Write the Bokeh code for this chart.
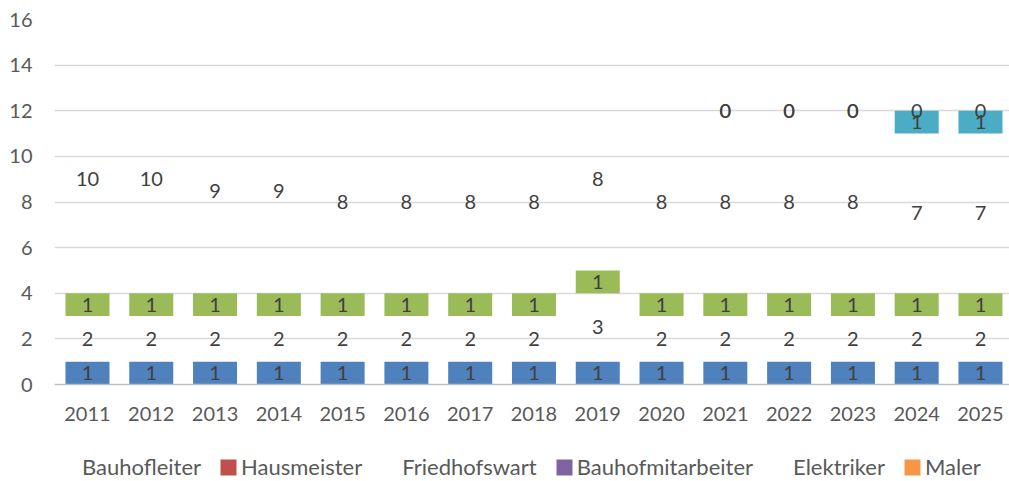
import numpy as np
from bokeh.plotting import figure
from bokeh.layouts import column
from bokeh.models import (Range1d, FixedTicker, Legend, LegendItem, ColumnDataSource)
from bokeh.core.properties import value
from bokeh.embed import file_html
from bokeh.resources import INLINE

years = [str(y) for y in range(2011, 2026)]
bauhofleiter = [1] * 15
hausmeister = [2, 2, 2, 2, 2, 2, 2, 2, 3, 2, 2, 2, 2, 2, 2]
friedhofswart = [1] * 15
bauhofmitarbeiter = [10, 10, 9, 9, 8, 8, 8, 8, 8, 8, 8, 8, 8, 7, 7]
elektriker = [None] * 10 + [0, 0, 0, 1, 1]
maler = [None] * 10 + [0, 0, 0, 0, 0]

series_names = ["Bauhofleiter", "Hausmeister", "Friedhofswart",
                "Bauhofmitarbeiter", "Elektriker", "Maler"]
series_vals = [bauhofleiter, hausmeister, friedhofswart,
               bauhofmitarbeiter, elektriker, maler]
colors = ["#4F81BD", "#C0504D", "#9BBB59", "#8064A2", "#4BACC6", "#F79646"]
bar_visible = [True, False, True, False, True, False]
legend_marker = [False, True, False, True, False, True]

FONT = "Lato"
TICK_COLOR = "#595959"
LABEL_COLOR = "#404040"

p = figure(width=1009, height=440, output_backend="svg", toolbar_location=None,
           x_range=Range1d(-0.517, 14.455), y_range=Range1d(0, 16),
           min_border_left=54, min_border_right=0, min_border_top=19,
           min_border_bottom=56)
p.outline_line_color = None
p.background_fill_color = "white"
p.border_fill_color = "white"

x = np.arange(len(years))
bottom = np.zeros(len(years))
for name, vals, col, vis in zip(series_names, series_vals, colors, bar_visible):
    arr = np.array([np.nan if v is None else v for v in vals], dtype=float)
    h = np.nan_to_num(arr)
    top = bottom + h
    if vis:
        p.vbar(x=x, bottom=bottom, top=top, width=0.69, fill_color=col,
               line_color=None)
    mask = ~np.isnan(arr)
    src = ColumnDataSource(dict(x=x[mask], y=((bottom + top) / 2)[mask],
                                t=[str(int(v)) for v in arr[mask]]))
    p.text(x="x", y="y", text="t", source=src, text_align="center",
           text_baseline="middle", text_font=value(FONT),
           text_font_size="20px", text_color=LABEL_COLOR)
    bottom = top

# axes
p.xaxis.ticker = FixedTicker(ticks=list(x))
p.xaxis.major_label_overrides = {int(i): y for i, y in zip(x, years)}
p.xaxis.axis_line_color = "#BFBFBF"
p.xaxis.axis_line_width = 1.5
p.xaxis.major_tick_line_color = None
p.xaxis.minor_tick_line_color = None
p.xaxis.major_label_standoff = 16
p.xaxis.major_label_text_font = FONT
p.xaxis.major_label_text_font_size = "20px"
p.xaxis.major_label_text_color = TICK_COLOR
p.xgrid.grid_line_color = None

p.yaxis.ticker = FixedTicker(ticks=list(range(0, 17, 2)))
p.yaxis.axis_line_color = None
p.yaxis.major_tick_line_color = None
p.yaxis.minor_tick_line_color = None
p.yaxis.major_label_standoff = 16
p.yaxis.major_label_text_font = FONT
p.yaxis.major_label_text_font_size = "20px"
p.yaxis.major_label_text_color = TICK_COLOR
p.ygrid.grid_line_color = "#D9D9D9"
p.ygrid.grid_line_width = 1.5

# legend in its own strip below the chart
lf = figure(width=1009, height=41, output_backend="svg", toolbar_location=None,
            x_range=Range1d(0, 1), y_range=Range1d(0, 1),
            x_axis_type=None, y_axis_type=None,
            min_border_left=0, min_border_right=0, min_border_top=0,
            min_border_bottom=0)
lf.outline_line_color = None
lf.grid.visible = False
items = []
for name, col, mk in zip(series_names, colors, legend_marker):
    r = lf.vbar(x=[-10], top=[-10], width=0.5, fill_color=col if mk else None,
                fill_alpha=1 if mk else 0, line_color=None)
    items.append(LegendItem(label=name, renderers=[r]))
legend = Legend(items=items, orientation="horizontal", location=(5, 1),
                glyph_width=20, glyph_height=20, label_standoff=3, spacing=17,
                padding=0, margin=0, border_line_color=None,
                background_fill_alpha=0, label_text_font=FONT,
                label_text_font_size="22px", label_text_color=TICK_COLOR)
lf.add_layout(legend, "center")

layout = column(p, lf, spacing=0)
open("out.html", "w").write(file_html(layout, INLINE))
